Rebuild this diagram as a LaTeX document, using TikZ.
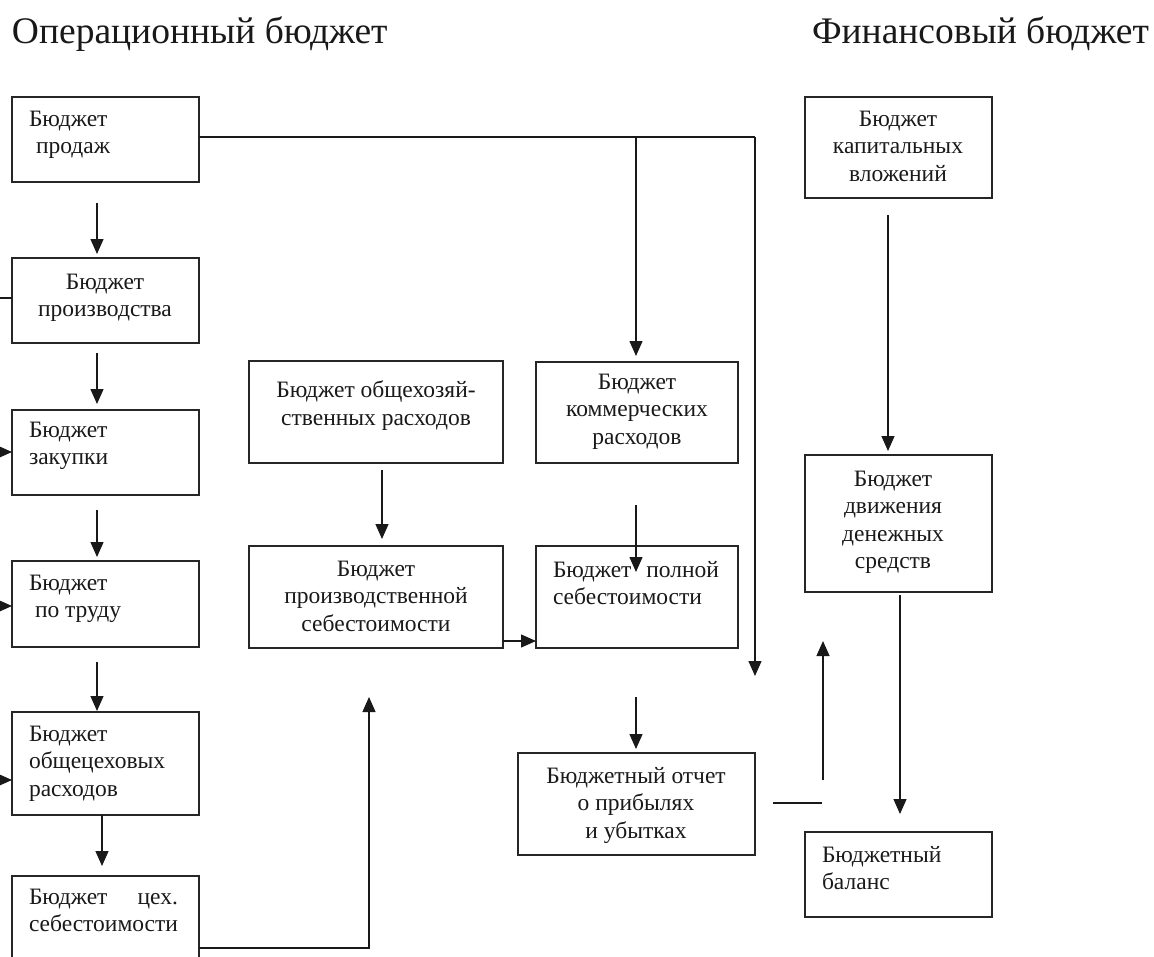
\documentclass[tikz,border=0pt]{standalone}
\usepackage{fontspec}
\setmainfont{Liberation Serif}
\usetikzlibrary{arrows.meta,calc}
\tikzset{
  box/.style={draw=black!85, line width=1.4pt, inner sep=0pt, outer sep=0pt, anchor=north west},
  txt/.style={inner sep=0pt, outer sep=0pt, font=\fontsize{23.5}{27.5}\selectfont, text=black!90},
  ttl/.style={inner sep=0pt, outer sep=0pt, font=\fontsize{37.5}{42}\selectfont, anchor=base west, text=black!90},
  conn/.style={draw=black!90, line width=1.3pt},
  arr/.style={conn, -{Triangle[length=15pt,width=13pt]}}
}
\begin{document}
\begin{tikzpicture}[x=1pt,y=-1pt]
\useasboundingbox (0,0) rectangle (1154,956);
\clip (0,0) rectangle (1154,956);
% titles
\node[ttl] (t1) at (12,43) {Операционный бюджет};
\node[ttl] (t2) at (812,43) {Финансовый бюджет};
% left column boxes
\node[box, minimum width=187pt, minimum height=85pt] (prod) at (12,97) {};
\node[box, minimum width=187pt, minimum height=85pt] (proizv) at (12,258) {};
\node[box, minimum width=187pt, minimum height=85pt] (zak) at (12,410) {};
\node[box, minimum width=187pt, minimum height=86pt] (trud) at (12,561) {};
\node[box, minimum width=187pt, minimum height=103pt] (obsh) at (12,712) {};
\node[box, minimum width=187pt, minimum height=110pt] (ceh) at (12,876) {};
% middle boxes
\node[box, minimum width=254pt, minimum height=102pt] (ohr) at (249,361) {};
\node[box, minimum width=254pt, minimum height=102pt] (pss) at (249,546) {};
\node[box, minimum width=202pt, minimum height=101pt] (kom) at (536,362) {};
\node[box, minimum width=202pt, minimum height=102pt] (pol) at (536,546) {};
\node[box, minimum width=237pt, minimum height=102pt] (otch) at (518,753) {};
% right boxes
\node[box, minimum width=187pt, minimum height=101pt] (kap) at (805,97) {};
\node[box, minimum width=187pt, minimum height=137pt] (dds) at (805,455) {};
\node[box, minimum width=187pt, minimum height=85pt] (bal) at (805,832) {};
% texts
\node[txt, anchor=north west, align=left] (tprod) at (29,111) {Бюджет\\\hspace*{7pt}продаж};
\node[txt, anchor=north, align=center] (tproizv) at (105,274) {Бюджет\\производства};
\node[txt, anchor=north west, align=left] (tzak) at (29,422) {Бюджет\\закупки};
\node[txt, anchor=north west, align=left] (ttrud) at (29,575) {Бюджет\\\hspace*{6pt}по труду};
\node[txt, anchor=north west, align=left] (tobsh) at (29,726) {Бюджет\\общецеховых\\расходов};
\node[txt, anchor=north west, align=left, text width=149pt] (tceh) at (29,889) {Бюджет\hfill цех.\\себестоимости};
\node[txt, anchor=north, align=center] (tohr) at (376,381) {Бюджет общехозяй-\\ственных расходов};
\node[txt, anchor=north, align=center] (tpss) at (376,561) {Бюджет\\производственной\\себестоимости};
\node[txt, anchor=north, align=center] (tkom) at (637,374) {Бюджет\\коммерческих\\расходов};
\node[txt, anchor=north west, align=justify, text width=166pt] (tpol) at (553,561) {Бюджет полной себестоимости};
\node[txt, anchor=north, align=center] (totch) at (636,767) {Бюджетный отчет\\о прибылях\\и убытках};
\node[txt, anchor=north, align=center] (tkap) at (898,111) {Бюджет\\капитальных\\вложений};
\node[txt, anchor=north, align=center] (tdds) at (893,471) {Бюджет\\движения\\денежных\\средств};
\node[txt, anchor=north west, align=left] (tbal) at (822,846) {Бюджетный\\баланс};
% coordinates
\coordinate (c1) at (755,137);
\coordinate (c1e) at (755,676);
\coordinate (c2) at (636,137);
\coordinate (c2e) at (636,356);
\coordinate (a1s) at (97,203);
\coordinate (a1e) at (97,254);
\coordinate (a2s) at (97,353);
\coordinate (a2e) at (97,404);
\coordinate (a3s) at (97,510);
\coordinate (a3e) at (97,557);
\coordinate (a4s) at (97,662);
\coordinate (a4e) at (97,711);
\coordinate (a5e) at (102,866);
\coordinate (l1) at (-20,298);
\coordinate (l2) at (-20,452);
\coordinate (l3) at (-20,606);
\coordinate (l4) at (-20,780);
\coordinate (o1s) at (382,470);
\coordinate (o1e) at (382,539);
\coordinate (k1s) at (636,505);
\coordinate (k1e) at (636,572);
\coordinate (cu) at (369,948);
\coordinate (cue) at (369,697);
\coordinate (p1s) at (636,697);
\coordinate (p1e) at (636,749);
\coordinate (r1s) at (773,803);
\coordinate (r1e) at (822,803);
\coordinate (u1s) at (823,780);
\coordinate (u1e) at (823,641);
\coordinate (kd1) at (888,215);
\coordinate (kd2) at (888,451);
\coordinate (db1) at (900,595);
\coordinate (db2) at (900,814);
% connectors
\draw[conn] (prod.east |- c1) -- (c1);
\draw[arr] (c1) -- (c1e);
\draw[arr] (c2) -- (c2e);
\draw[arr] (a1s) -- (a1e);
\draw[arr] (a2s) -- (a2e);
\draw[arr] (a3s) -- (a3e);
\draw[arr] (a4s) -- (a4e);
\draw[arr] (obsh.south -| a5e) -- (a5e);
\draw[conn] (l1) -- (proizv.west |- l1);
\draw[arr] (l2) -- (zak.west |- l2);
\draw[arr] (l3) -- (trud.west |- l3);
\draw[arr] (l4) -- (obsh.west |- l4);
\draw[arr] (o1s) -- (o1e);
\draw[arr] (k1s) -- (k1e);
\draw[arr] (pss.east |- 0,641) -- (pol.west |- 0,641);
\draw[arr] (ceh.east |- cu) -- (cu) -- (cue);
\draw[arr] (p1s) -- (p1e);
\draw[conn] (r1s) -- (r1e);
\draw[arr] (u1s) -- (u1e);
\draw[arr] (kd1) -- (kd2);
\draw[arr] (db1) -- (db2);
\end{tikzpicture}
\end{document}
